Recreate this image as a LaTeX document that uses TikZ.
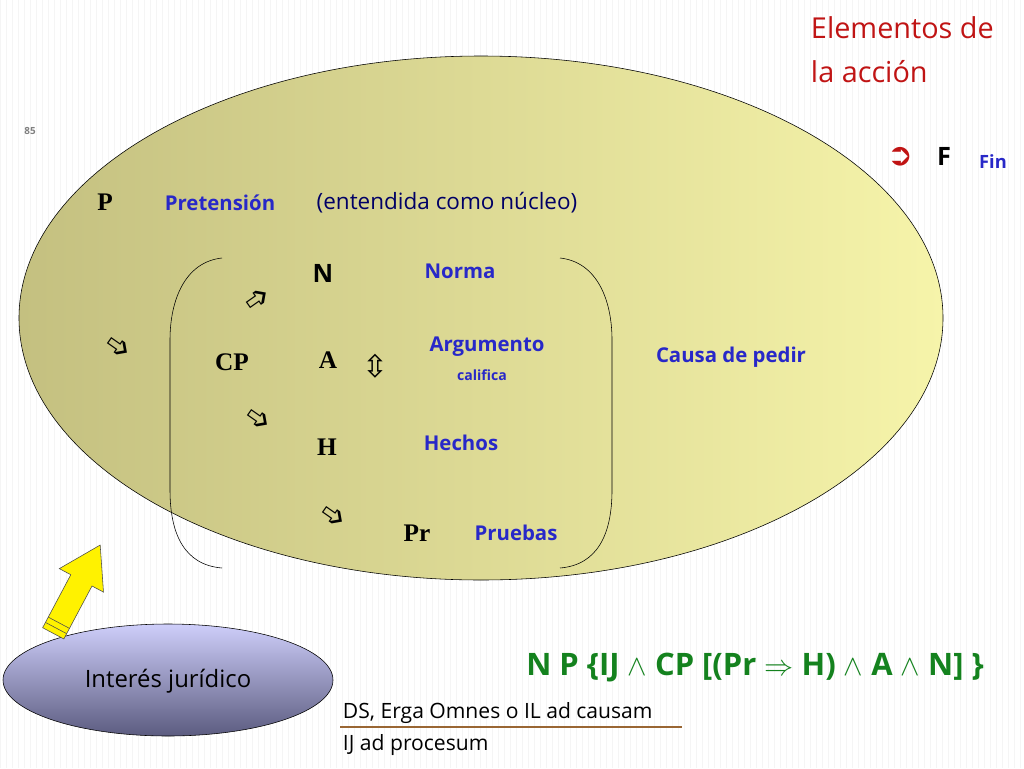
\documentclass[tikz,border=0pt]{standalone}
\usepackage{fontspec}
\setmainfont{Liberation Serif}
\setsansfont{Open Sans}
\newfontfamily\symfont{DejaVu Sans}
\usetikzlibrary{positioning}
\definecolor{olivedark}{RGB}{196,192,128}
\definecolor{olivelight}{RGB}{246,244,170}
\definecolor{linkblue}{RGB}{40,40,200}
\definecolor{titlered}{RGB}{192,20,20}
\definecolor{formgreen}{RGB}{20,130,30}
\definecolor{lavtop}{RGB}{206,206,250}
\definecolor{lavbot}{RGB}{92,92,128}
\begin{document}
\begin{tikzpicture}[
    x=0.25mm, y=-0.25mm,
    lbl/.style = {font=\sffamily\bfseries\fontsize{14.5}{16}\selectfont, text=linkblue},
    big/.style = {font=\rmfamily\bfseries\fontsize{18}{20}\selectfont},
    sym/.style = {font=\symfont\fontsize{22}{24}\selectfont},
    plain/.style = {font=\sffamily\fontsize{15}{17}\selectfont},
    bracket/.style = {draw=black, thin},
]
    \useasboundingbox (0,0) rectangle (1024,768);
    % fondo
    \foreach \x in {0,6,...,1020}
        \draw[black!4] (\x,0) -- (\x,768);
    % elipse principal
    \shade[left color=olivedark, right color=olivelight, draw=black]
        (481,318) ellipse [x radius=462, y radius=262];
    % corchetes
    \draw[bracket] (222,258) .. controls (185,262) and (170,300) .. (170,340)
        -- (170,490) .. controls (170,535) and (185,565) .. (222,568);
    \draw[bracket] (560,258) .. controls (597,262) and (612,300) .. (612,340)
        -- (612,490) .. controls (612,535) and (597,565) .. (560,568);
    % textos de cabecera
    \node[font=\sffamily\fontsize{20.5}{31}\selectfont, text=titlered, align=left, anchor=north west]
        (titulo) at (806,12) {Elementos de\\la acción};
    \node[font=\sffamily\bfseries\fontsize{7}{8}\selectfont, text=gray] (pag) at (30,131) {85};
    \node[sym, text=titlered] (flecha) at (900,157) {➲};
    \node[font=\sffamily\bfseries\fontsize{18}{20}\selectfont] (F) at (944,156) {F};
    \node[lbl, font=\sffamily\bfseries\fontsize{13}{14}\selectfont] (fin) at (993,162) {Fin};
    % pretension
    \node[big] (P) at (105,202) {P};
    \node[lbl] (pret) at (220,203) {Pretensión};
    \node[plain, font=\sffamily\fontsize{16}{18}\selectfont, text=blue!40!black] (nucleo) at (447,203) {(entendida como núcleo)};
    % causa de pedir
    \node[font=\sffamily\bfseries\fontsize{18}{20}\selectfont] (N) at (323,273) {N};
    \node[lbl] (norma) at (460,271) {Norma};
    \node[big] (CP) at (232,362) {CP};
    \node[big] (A) at (328,360) {A};
    \node[lbl] (arg) at (487,347) {Argumento};
    \node[lbl, font=\sffamily\bfseries\fontsize{10}{11}\selectfont] (calif) at (482,375) {califica};
    \node[lbl] (causa) at (731,357) {Causa de pedir};
    \node[big] (H) at (327,447) {H};
    \node[lbl] (hechos) at (461,443) {Hechos};
    \node[big] (Pr) at (417,533) {Pr};
    \node[lbl] (pruebas) at (516,533) {Pruebas};
    % flechas huecas
    \node[sym, rotate=35] (f1) at (258,300) {➩};
    \node[sym, rotate=-35] (f2) at (118,348) {➩};
    \node[sym, rotate=-35] (f3) at (258,420) {➩};
    \node[sym, rotate=-35] (f4) at (333,517) {➩};
    \node[sym] (f5) at (375,366) {⇳};
    % interes juridico
    \shade[top color=lavtop, bottom color=lavbot, draw=black]
        (168,680) ellipse [x radius=165, y radius=56];
    \node[plain, font=\sffamily\fontsize{17}{20}\selectfont] (ij) at (168,681) {Interés jurídico};
    % flecha amarilla
    \draw[fill=yellow, draw=black!70, rotate around={-28:(80,583)}]
        (68,640) -- (68,580) -- (55,580) -- (80,540) -- (105,580) -- (92,580) -- (92,640) -- cycle;
    \draw[black!70, rotate around={-28:(80,583)}] (68,628) -- (92,628) (68,634) -- (92,634);
    % formula
    \node[font=\sffamily\bfseries\fontsize{22}{24}\selectfont, text=formgreen] (formula) at (755,668)
        {N P \{IJ $\wedge$ CP [(Pr $\Rightarrow$ H) $\wedge$ A $\wedge$ N] \}};
    \node[plain, anchor=west] (ds) at (338,713) {DS, Erga Omnes o IL ad causam};
    \node[plain, anchor=west] (proc) at (338,745) {IJ ad procesum};
    \draw[brown!80!black, thick] (340,727) -- (682,727);
\end{tikzpicture}
\end{document}
